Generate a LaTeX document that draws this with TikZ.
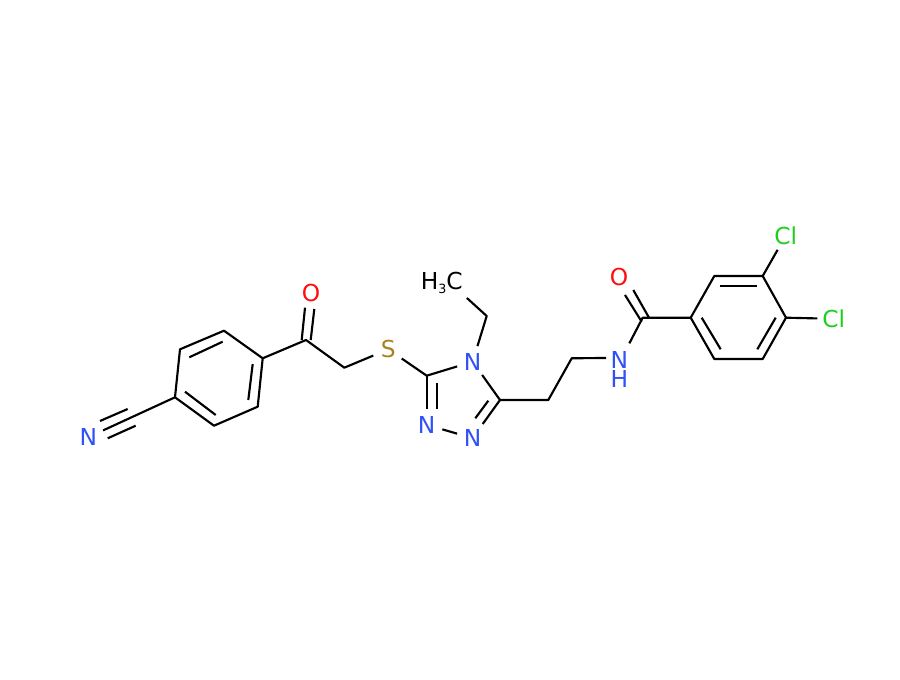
\documentclass[tikz,border=0pt]{standalone}
\usepackage{fontspec}
\setmainfont{DejaVu Sans}
\usepackage{tikz}
\definecolor{atomblue}{HTML}{3050F8}
\definecolor{atomred}{HTML}{FF0D0D}
\definecolor{atomgold}{HTML}{A8831C}
\definecolor{atomgreen}{HTML}{1FCF1F}
\tikzset{
	bond/.style={line width=1.6pt,line join=round,black},
	atom/.style={circle,inner sep=0pt,minimum size=24pt,font=\fontsize{17.5}{20}\selectfont},
	atomN/.style={atom,text=atomblue},
	atomO/.style={atom,text=atomred},
	atomS/.style={atom,text=atomgold},
	atomCl/.style={atom,text=atomgreen},
	amideNH/.style={rectangle,inner sep=0pt,minimum width=19.5pt,minimum height=30pt,align=center,text=atomblue,font=\fontsize{17.5}{14.25}\selectfont},
	methyl/.style={inner sep=3pt,font=\fontsize{17.5}{20}\selectfont}
}

\begin{document}
\begin{tikzpicture}[x=0.75pt,y=-0.75pt]
	\useasboundingbox (0,0) rectangle (900,680);
	% skeleton
	\foreach \name/\px/\py in {
		c1/175/397.3, c2/180/349.3, c3/224/330.7, c4/262.7/358.3, c5/257.7/406.7, c6/214/425.7,
		c7/306/340, c8/344.3/367.7, c9/426.7/375.7, c10/500/400, c11/548.3/400, c12/571.7/358.3,
		c13/486.7/316, c14/642.7/317.7,
		c15/690.7/317.7, c16/714.3/276, c17/762.7/276, c18/786/317.7, c19/762.7/359, c20/714.3/359}
		\coordinate (\name) at (\px,\py);
	% inner lines of the double and triple bonds
	\foreach \name/\px/\py in {
		t1/127.7/409, t2/100/421, t3/135.7/425.7, t4/107.7/438.3,
		a1/189.3/357.3, a2/222.7/341.7, a3/252.7/364, a4/248.3/400, a5/185/391.7, a6/215.7/415,
		o1/301.7/340, o2/305/307.7, o3/310.7/340, o4/314.3/309,
		z1/436.7/383.3, z2/436.7/409, z3/426.7/409, z4/488.3/400.7, z5/475.3/418.3, z6/482.7/424,
		o5/649/317.7, o6/633.3/290, o7/641.7/321.7, o8/625/295,
		b1/720/285.7, b2/756.7/285.7, b3/775.7/317.7, b4/757.3/349.3, b5/701.7/317.7, b6/720.7/349.3}
		\coordinate (\name) at (\px,\py);

	\node[atomN] (nitrile) at (88.3,437.2) {N};
	\node[atomO] (oxoL) at (311,293) {O};
	\node[atomS] (sulfur) at (388.3,349.3) {S};
	\node[atomN] (n4) at (472.7,361.7) {N};
	\node[atomN] (n2) at (426.7,424.8) {N};
	\node[atomN] (n1) at (472.7,438.2) {N};
	\node[methyl] (ch3) at (441.7,283) {H\raisebox{-3pt}{\fontsize{9.5}{10}\selectfont 3}C};
	\node[amideNH] (amide) at (619.3,369.5) {N\\H};
	\node[atomO] (oxoR) at (619,277) {O};
	\node[atomCl] (clA) at (785.7,235.7) {Cl};
	\node[atomCl] (clB) at (833.7,318.8) {Cl};

	% cyanophenyl
	\draw[bond] (c1) -- (c2) -- (c3) -- (c4) -- (c5) -- (c6) -- cycle;
	\draw[bond] (a1) -- (a2);
	\draw[bond] (a3) -- (a4);
	\draw[bond] (a5) -- (a6);
	\draw[bond] (c1) -- (nitrile);
	\draw[bond] (t1) -- (t2);
	\draw[bond] (t3) -- (t4);
	% linker
	\draw[bond] (c4) -- (c7) -- (c8) -- (sulfur);
	\draw[bond] (o1) -- (o2);
	\draw[bond] (o3) -- (o4);
	\draw[bond] (sulfur) -- (c9);
	% triazole
	\draw[bond] (c9) -- (n4);
	\draw[bond] (n4) -- (c10);
	\draw[bond] (c10) -- (z6);
	\draw[bond] (z4) -- (z5);
	\draw[bond] (n1) -- (n2);
	\draw[bond] (c9) -- (z3);
	\draw[bond] (z1) -- (z2);
	% ethyl
	\draw[bond] (n4) -- (c13) -- (ch3.south east);
	% amide
	\draw[bond] (c10) -- (c11) -- (c12) -- (amide.139.5);
	\draw[bond,shorten <=5pt] (amide.71) -- (c14) -- (c15);
	\draw[bond] (o5) -- (o6);
	\draw[bond] (o7) -- (o8);
	% dichlorophenyl
	\draw[bond] (c15) -- (c16) -- (c17) -- (c18) -- (c19) -- (c20) -- cycle;
	\draw[bond] (b1) -- (b2);
	\draw[bond] (b3) -- (b4);
	\draw[bond] (b5) -- (b6);
	\draw[bond] (c17) -- (clA);
	\draw[bond] (c18) -- (clB);
\end{tikzpicture}
\end{document}
